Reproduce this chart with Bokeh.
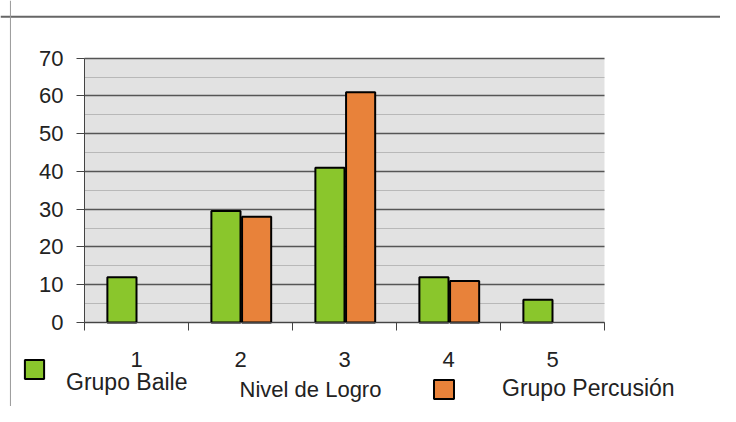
from bokeh.plotting import figure
from bokeh.models import (FixedTicker, Legend, LegendItem, Label, BoxAnnotation, Span)
from bokeh.embed import file_html
from bokeh.resources import INLINE

# ---- data ----
niveles = [1, 2, 3, 4, 5]
grupo_baile = [12, 29.5, 41, 12, 6]
grupo_percusion = [0, 28, 61, 11, 0]
y_ticks = [0, 10, 20, 30, 40, 50, 60, 70]
y_minor = [5, 15, 25, 35, 45, 55, 65]
x_bounds = [0.5, 1.5, 2.5, 3.5, 4.5, 5.5]
serie_baile = "Grupo Baile"
serie_percusion = "Grupo Percusión"
titulo_x = "Nivel de Logro"

GREEN = "#8ac62c"
ORANGE = "#e8823a"
FONT = "Liberation Sans"
TXT = "#222222"

# frame covers the whole canvas; plot area is placed through the ranges
p = figure(width=720, height=406, x_range=(-0.3077, 6.6154), y_range=(-22.25, 85.28),
           output_backend="svg", toolbar_location=None,
           min_border=0, min_border_left=0, min_border_right=0,
           min_border_top=0, min_border_bottom=0)
p.background_fill_color = "white"
p.border_fill_color = "white"
p.outline_line_color = None

# plot-area background
p.add_layout(BoxAnnotation(left=x_bounds[0], right=x_bounds[-1],
                           bottom=y_ticks[0], top=y_ticks[-1],
                           fill_color="#e2e2e2", fill_alpha=1,
                           line_color=None, level="image"))

# outer chart border (top and left)
p.add_layout(Span(location=81.0, dimension="width", line_color="#666666", line_width=2))
p.add_layout(Span(location=-0.212, dimension="height", line_color="#999999", line_width=1))

# bars (skip zero values)
bx = [n - 0.14 for n, v in zip(niveles, grupo_baile) if v > 0]
bv = [v for v in grupo_baile if v > 0]
px = [n + 0.155 for n, v in zip(niveles, grupo_percusion) if v > 0]
pv = [v for v in grupo_percusion if v > 0]

r1 = p.vbar(x=bx, top=bv, width=0.28, bottom=0,
            fill_color=GREEN, line_color="black", line_width=2)
r2 = p.vbar(x=px, top=pv, width=0.28, bottom=0,
            fill_color=ORANGE, line_color="black", line_width=2)

# grid
p.xgrid.grid_line_color = None
p.ygrid.ticker = FixedTicker(ticks=y_ticks, minor_ticks=y_minor)
p.ygrid.bounds = (y_ticks[0], y_ticks[-1])
p.ygrid.cross_bounds = (x_bounds[0], x_bounds[-1])
p.ygrid.grid_line_color = "#555555"
p.ygrid.grid_line_width = 1.3
p.ygrid.minor_grid_line_color = "#b8b8b8"
p.ygrid.minor_grid_line_width = 1

# y axis
p.yaxis.fixed_location = x_bounds[0]
p.yaxis.bounds = (y_ticks[0], y_ticks[-1])
p.yaxis.ticker = FixedTicker(ticks=y_ticks, minor_ticks=y_minor)
p.yaxis.axis_line_color = "#444444"
p.yaxis.major_tick_line_color = "#444444"
p.yaxis.major_tick_out = 8
p.yaxis.major_tick_in = 0
p.yaxis.minor_tick_line_color = None
p.yaxis.major_label_standoff = 13
p.yaxis.major_label_text_font = FONT
p.yaxis.major_label_text_font_size = "22px"
p.yaxis.major_label_text_color = TXT

# x axis
p.xaxis.fixed_location = y_ticks[0]
p.xaxis.bounds = (x_bounds[0], x_bounds[-1])
p.xaxis.ticker = FixedTicker(ticks=niveles, minor_ticks=x_bounds)
p.xaxis.axis_line_color = "#444444"
p.xaxis.major_tick_line_color = None
p.xaxis.major_tick_out = 0
p.xaxis.major_tick_in = 0
p.xaxis.minor_tick_line_color = "#444444"
p.xaxis.minor_tick_out = 8
p.xaxis.minor_tick_in = 0
p.xaxis.major_label_standoff = 22
p.xaxis.major_label_text_font = FONT
p.xaxis.major_label_text_font_size = "22px"
p.xaxis.major_label_text_color = TXT

# x title
p.add_layout(Label(x=2.673, y=-17.7, text=titulo_x, text_align="center",
                   text_baseline="middle", text_font=FONT,
                   text_font_size="22px", text_color=TXT))

# legends
leg1 = Legend(items=[LegendItem(label="\n" + serie_baile, renderers=[r1])],
              location=(22, 10), glyph_width=24, glyph_height=24,
              label_height=24, label_standoff=20, padding=0, margin=0,
              border_line_color=None, background_fill_alpha=0,
              label_text_font=FONT, label_text_font_size="23px",
              label_text_line_height=1.0, label_text_color=TXT)
leg2 = Legend(items=[LegendItem(label=serie_percusion, renderers=[r2])],
              location=(431, 4), glyph_width=25, glyph_height=24,
              label_height=24, label_standoff=46, padding=0, margin=0,
              border_line_color=None, background_fill_alpha=0,
              label_text_font=FONT, label_text_font_size="23px",
              label_text_color=TXT)
p.add_layout(leg1, "center")
p.add_layout(leg2, "center")

open("out.html", "w").write(file_html(p, INLINE))
